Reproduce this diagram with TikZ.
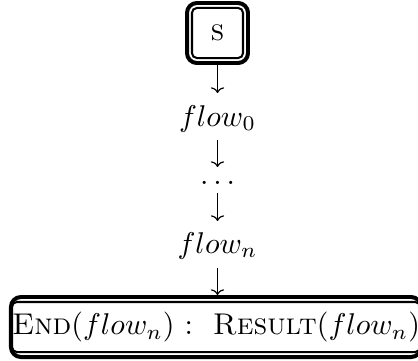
\documentclass[tikz,border=0pt]{standalone}
\usetikzlibrary{arrows.meta}
\begin{document}
\begin{tikzpicture}[x=0.33333pt,y=-0.33333pt,
  inbox/.style={draw, line width=0.67pt, rounded corners=1.6pt, inner sep=0pt},
  outbox/.style={draw, line width=1.33pt, rounded corners=3.3pt, inner sep=0pt},
  lbl/.style={inner sep=0pt, outer sep=0pt, anchor=base},
  conn/.style={-{To[width=4.4pt,length=1.9pt]}, line width=0.4pt}
]
\useasboundingbox (0,0) rectangle (418,360);
% start box
\node[outbox, minimum width=20.33pt, minimum height=20pt] (so) at (217.5,33) {};
\node[inbox, minimum width=17pt, minimum height=16.67pt] (s) at (217.5,33) {\textsc{s}};
% chain labels
\node[lbl, text height=11pt, text depth=4.67pt] (f0) at (217.5,126) {$flow_0$};
\node[lbl, text height=5.67pt, text depth=3pt] (dd) at (217.5,184) {$\ldots$};
\node[lbl, text height=10.67pt, text depth=5pt] (fn) at (217.5,253) {$flow_n$};
% end box
\node[outbox, minimum width=136.67pt, minimum height=20pt] (eo) at (216,327) {};
\node[inbox, minimum width=133.33pt, minimum height=16.67pt] (e) at (216,327)
  {\textsc{End}($flow_n$)\ :\ \ \textsc{Result}($flow_n$)};
% connectors
\draw[conn] (so) -- (f0);
\draw[conn] (f0) -- (dd);
\draw[conn] (dd) -- (fn);
\draw[conn] (fn.south) -- (fn.south |- eo.north);
\end{tikzpicture}
\end{document}
